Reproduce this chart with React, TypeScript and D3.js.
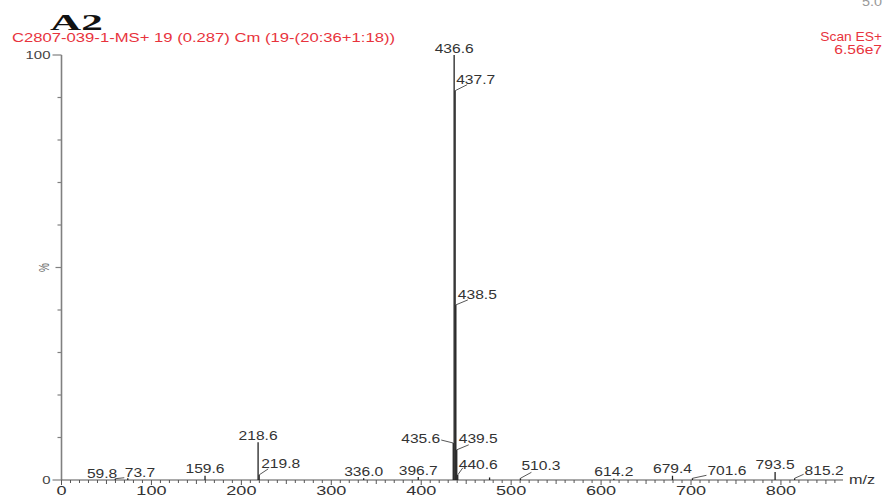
import React from "react";
import * as d3 from "d3";

// Centroided peaks: m/z and relative intensity (% of base peak)
const peakMz = [59.8, 73.7, 159.6, 218.6, 219.8, 336.0, 396.7, 435.6, 436.6, 437.7, 438.5, 439.5, 440.6, 476.0, 510.3, 614.2, 679.4, 701.6, 793.5, 815.2];
const peakIntensity = [0.3, 0.4, 1.0, 8.9, 1.2, 0.4, 0.7, 8.7, 100, 91.6, 41.2, 7.1, 1.2, 0.6, 0.4, 0.3, 1.0, 0.4, 1.9, 0.4];
const peakLabels = ["59.8", "73.7", "159.6", "218.6", "219.8", "336.0", "396.7", "435.6", "436.6", "437.7", "438.5", "439.5", "440.6", "", "510.3", "614.2", "679.4", "701.6", "793.5", "815.2"];

const xMajorTicks = [0, 100, 200, 300, 400, 500, 600, 700, 800];
const yLabelTicks = [0, 100];

const headerTitle = "C2807-039-1-MS+ 19 (0.287) Cm (19-(20:36+1:18))";
const scanText = "Scan ES+";
const baseIntensity = "6.56e7";
const panelTag = "A2";
const cornerText = "5.0";

// Label placement for crowded peaks: leader end and text anchor relative to the peak top
type Placement = { lx: number; ly: number; tx: number; ty: number; anchor: "start" | "end" | "middle" };
const labelPlacement: Record<string, Placement> = {
  "437.7": { lx: 12, ly: -6, tx: 1, ty: -7, anchor: "start" },
  "438.5": { lx: 12, ly: -5, tx: 2, ty: -6, anchor: "start" },
  "439.5": { lx: 12, ly: -5, tx: 2, ty: -7, anchor: "start" },
  "440.6": { lx: 5, ly: -7, tx: 1, ty: -6, anchor: "start" },
  "435.6": { lx: -12, ly: -3, tx: -13, ty: 0, anchor: "end" },
  "219.8": { lx: 9, ly: -6, tx: 2, ty: -7, anchor: "start" },
  "510.3": { lx: 11, ly: -6, tx: 1, ty: -8, anchor: "start" },
  "701.6": { lx: 14, ly: -3, tx: 15, ty: -3, anchor: "start" },
  "815.2": { lx: 9, ly: -4, tx: 10, ty: -3, anchor: "start" },
  "59.8": { lx: 9, ly: -1, tx: 2, ty: -1, anchor: "end" },
  "73.7": { lx: 0, ly: 0, tx: -3, ty: -1, anchor: "start" },
};

const W = 885;
const H = 497;
const LABEL_FONT = "'Liberation Sans', Arial, sans-serif";
const SX = 1.3; // horizontal stretch applied to text

function SText(props: {
  x: number; y: number; anchor?: "start" | "middle" | "end"; fill?: string;
  size?: number; sx?: number; family?: string; weight?: string | number; children: React.ReactNode;
}) {
  const { x, y, anchor = "start", fill = "#333", size = 12, sx = SX, family = LABEL_FONT, weight = "normal", children } = props;
  return (
    <text
      transform={`translate(${x},${y}) scale(${sx},1)`}
      textAnchor={anchor}
      fill={fill}
      fontSize={size}
      fontFamily={family}
      fontWeight={weight}
    >
      {children}
    </text>
  );
}

export default function App() {
  const x = d3.scaleLinear().domain([0, 869]).range([61.5, 843]);
  const y = d3.scaleLinear().domain([0, 100]).range([480, 55]);

  const minorX = d3.range(0, 861, 10);
  const minorY = d3.range(0, 101, 10);

  const peaks = peakMz.map((mz, i) => ({ mz, v: peakIntensity[i], label: peakLabels[i] }));
  const red = "#e8333d";

  return (
    <svg
      width={W}
      height={H}
      viewBox={`0 0 ${W} ${H}`}
      style={{ position: "fixed", left: 0, top: 0, background: "#fff" }}
    >
      <rect x={0} y={0} width={W} height={H} fill="#fff" />

      {/* header */}
      <SText x={882} y={6} anchor="end" fill="#999" size={12} sx={1.2}>{cornerText}</SText>
      <SText x={50} y={29.5} size={24} sx={1.8} fill="#111" family="'Liberation Serif', 'Times New Roman', serif" weight="bold">
        {panelTag}
      </SText>
      <text
        x={12}
        y={42}
        fill={red}
        fontSize={12}
        fontFamily={LABEL_FONT}
        textLength={383}
        lengthAdjust="spacingAndGlyphs"
      >
        {headerTitle}
      </text>
      <SText x={882} y={40.5} anchor="end" fill={red} sx={1.15}>{scanText}</SText>
      <SText x={882} y={54} anchor="end" fill={red} sx={1.3}>{baseIntensity}</SText>

      {/* y axis */}
      <line x1={x(0)} x2={x(0)} y1={y(100)} y2={y(0)} stroke="#808080" strokeWidth={1.6} />
      {minorY.map((t) => {
        const len = t === 0 || t === 100 ? 9 : t === 50 ? 6 : 4;
        return (
          <line key={`yt${t}`} x1={x(0) - len} x2={x(0)} y1={y(t)} y2={y(t)} stroke="#808080" strokeWidth={1.2} />
        );
      })}
      {yLabelTicks.map((t) => (
        <SText key={`yl${t}`} x={x(0) - 11} y={y(t) + 4} anchor="end" fill="#444" size={11.5}>
          {t}
        </SText>
      ))}
      <text
        transform={`translate(${x(0) - 13},${y(50)}) rotate(-90) scale(1,1.4)`}
        textAnchor="middle"
        fill="#666"
        fontSize={10}
        fontFamily={LABEL_FONT}
      >
        %
      </text>

      {/* x axis */}
      <line x1={x(0)} x2={x(869)} y1={y(0)} y2={y(0)} stroke="#555" strokeWidth={1.2} />
      {minorX.map((t) => {
        const len = t % 100 === 0 ? 5 : t % 50 === 0 ? 4 : 3;
        return (
          <line key={`xt${t}`} x1={x(t)} x2={x(t)} y1={y(0)} y2={y(0) + len} stroke="#555" strokeWidth={1} />
        );
      })}
      {xMajorTicks.map((t) => (
        <SText key={`xl${t}`} x={x(t)} y={495} anchor="middle" fill="#333" size={12.5} sx={1.45}>
          {t}
        </SText>
      ))}
      <SText x={849} y={484} fill="#333" size={12} sx={1.35}>m/z</SText>

      {/* peaks */}
      {peaks.map((p) => (
        <line
          key={`pk${p.mz}`}
          x1={x(p.mz)}
          x2={x(p.mz)}
          y1={y(0)}
          y2={y(p.v)}
          stroke="#222"
          strokeWidth={1.3}
        />
      ))}

      {/* peak labels */}
      {peaks
        .filter((p) => p.label)
        .map((p) => {
          const px = x(p.mz);
          const py = y(p.v);
          const pl = labelPlacement[p.label];
          if (!pl) {
            return (
              <SText key={`lb${p.mz}`} x={px} y={py - 2.5} anchor="middle" fill="#333">
                {p.label}
              </SText>
            );
          }
          return (
            <g key={`lb${p.mz}`}>
              {(pl.lx !== 0 || pl.ly !== 0) && (
                <line x1={px} y1={py} x2={px + pl.lx} y2={py + pl.ly} stroke="#444" strokeWidth={0.9} />
              )}
              <SText x={px + pl.tx} y={py + pl.ty} anchor={pl.anchor} fill="#333">
                {p.label}
              </SText>
            </g>
          );
        })}
    </svg>
  );
}
